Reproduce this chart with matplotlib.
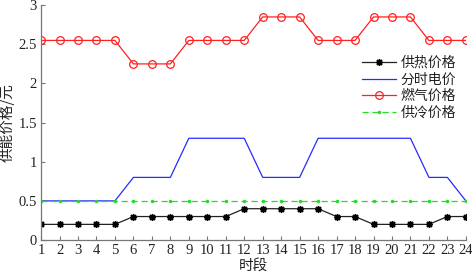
import matplotlib
matplotlib.use("Agg")
import matplotlib.pyplot as plt

periods = list(range(1, 25))
heat_price = [0.2]*5 + [0.3]*6 + [0.4]*5 + [0.3]*2 + [0.2]*4 + [0.3]*2
tou_price = [0.5]*5 + [0.8]*3 + [1.3]*4 + [0.8]*3 + [1.3]*6 + [0.8]*2 + [0.5]
gas_price = [2.55]*5 + [2.25]*3 + [2.55]*4 + [2.85]*3 + [2.55]*3 + [2.85]*3 + [2.55]*3
cold_price = [0.5]*24
labels = ["供热价格", "分时电价", "燃气价格", "供冷价格"]

plt.rcParams['font.family'] = ['Liberation Serif', 'Noto Sans CJK SC']
plt.rcParams['font.size'] = 10
text_color = '#222222'

fig = plt.figure(figsize=(4.72, 2.74), dpi=100)
ax = fig.add_axes([0.087, 0.124, 0.900, 0.857])

ax.plot(periods, heat_price, color='#222222', lw=0.9, marker=(8, 2, 0), ms=5,
        markeredgecolor='black', markeredgewidth=1.0, label=labels[0])
ax.plot(periods, tou_price, color='#2a2aff', lw=0.9, label=labels[1])
ax.plot(periods, gas_price, color='#ff2020', lw=0.9, marker='o', ms=5.5,
        markerfacecolor='none', markeredgecolor='#ff2020', markeredgewidth=0.9, label=labels[2])
ax.plot(periods, cold_price, color='#22dd22', lw=0.9, ls=(0, (5, 3)), marker='.', ms=3,
        label=labels[3])

ax.set_xlim(1, 24)
ax.set_ylim(0, 3)
ax.set_xticks(periods)
ax.set_yticks([0, 0.5, 1, 1.5, 2, 2.5, 3])
ax.set_yticklabels(['0', '0.5', '1', '1.5', '2', '2.5', '3'])
for s in ['top', 'right']:
    ax.spines[s].set_visible(False)
for s in ['left', 'bottom']:
    ax.spines[s].set_color('#777777')
    ax.spines[s].set_linewidth(0.9)
ax.tick_params(direction='in', length=3, color='#777777', labelsize=10.5, pad=3,
               labelcolor=text_color)

ax.set_xlabel("时段", family=['Noto Sans CJK SC'], fontsize=10.5, labelpad=1, color=text_color)
ax.set_ylabel("供能价格/元", family=['Noto Sans CJK SC'], fontsize=10.5, labelpad=3, color=text_color)

leg = ax.legend(loc='upper right', bbox_to_anchor=(1.0, 0.825), frameon=False,
                prop={'family': 'Noto Sans CJK SC', 'size': 10},
                handlelength=2.5, handletextpad=0.3, labelspacing=0.18, borderpad=0.2)
for t in leg.get_texts():
    t.set_color(text_color)

fig.savefig("out.png", dpi=100)
